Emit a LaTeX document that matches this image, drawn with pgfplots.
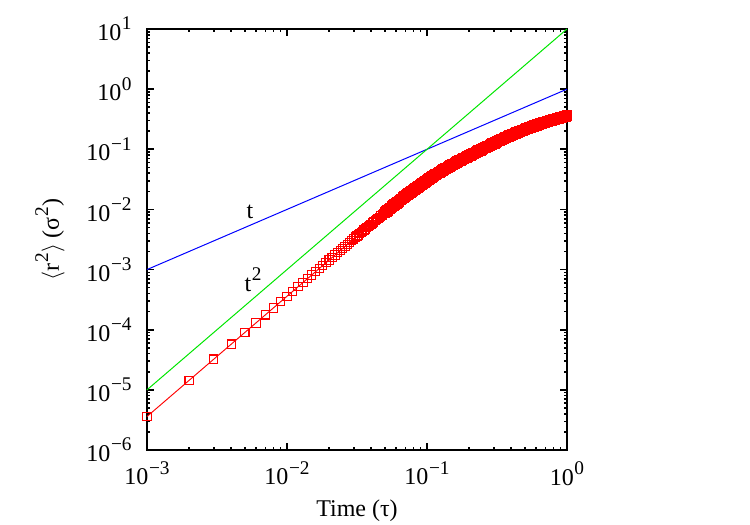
\documentclass[border=0pt]{standalone}
\usepackage{pgfplots}
\pgfplotsset{compat=1.18}
\usepackage{fontspec}
\setmainfont{Liberation Serif}
\newcommand\sups[1]{\kern0.5pt\raisebox{0.45em}{\fontsize{14.5}{14.5}\selectfont #1}}
\begin{document}
\begin{tikzpicture}[font=\fontsize{18}{21}\selectfont]
\useasboundingbox (-110.25pt,-56.25pt) rectangle (452.25pt,337.5pt);
\begin{axis}[
  at={(0pt,0pt)}, anchor=south west,
  scale only axis, width=315pt, height=315.75pt,
  xmode=log, ymode=log,
  xmin=1e-3, xmax=1, ymin=1e-6, ymax=10,
  clip=false,
  axis line style={line width=1.4pt},
  tick style={line width=1.2pt, black},
  tick align=inside,
  major tick length=5pt, minor tick length=2.6pt,
  xtick={0.001,0.01,0.1,1},
  xticklabels={10\sups{−3},10\sups{−2},10\sups{−1},10\sups{0}},
  minor xtick={0.002,0.003,0.004,0.005,0.006,0.007,0.008,0.009,0.02,0.03,0.04,0.05,0.06,0.07,0.08,0.09,0.2,0.3,0.4,0.5,0.6,0.7,0.8,0.9},
  ytick={1e-6,1e-5,1e-4,1e-3,1e-2,1e-1,1,10},
  yticklabels={10\sups{−6},10\sups{−5},10\sups{−4},10\sups{−3},10\sups{−2},10\sups{−1},10\sups{0},10\sups{1}},
  minor ytick={2e-6,3e-6,4e-6,5e-6,6e-6,7e-6,8e-6,9e-6,2e-5,3e-5,4e-5,5e-5,6e-5,7e-5,8e-5,9e-5,2e-4,3e-4,4e-4,5e-4,6e-4,7e-4,8e-4,9e-4,2e-3,3e-3,4e-3,5e-3,6e-3,7e-3,8e-3,9e-3,0.02,0.03,0.04,0.05,0.06,0.07,0.08,0.09,0.2,0.3,0.4,0.5,0.6,0.7,0.8,0.9,2,3,4,5,6,7,8,9},
  xticklabel style={yshift=-5pt},
  yticklabel style={xshift=-8pt},
  xlabel={Time (τ)},
  ylabel={$\langle$r\sups{2}$\rangle$ (σ\sups{2})},
  xlabel style={at={(axis description cs:0.5,-0.145)}, anchor=center},
  ylabel style={at={(axis description cs:-0.231,0.5)}, anchor=center},
]
\addplot[color={rgb,255:red,255;green,0;blue,0}, line width=0.7pt, mark=square, mark size=3.1pt, mark options={solid, line width=0.8pt}] coordinates {
(0.001,3.6e-6)(0.002,1.44e-5)(0.003,3.24e-5)(0.004,5.76e-5)(0.005,9.0e-5)
(0.006,1.296e-4)(0.007,1.764e-4)(0.008,2.304e-4)(0.009,2.916e-4)(0.010,3.6e-4)
(0.011,4.356e-4)(0.012,5.184e-4)(0.013,6.084e-4)(0.014,7.056e-4)(0.015,8.1e-4)
(0.016,9.216e-4)(0.017,1.0404e-3)(0.018,1.1664e-3)(0.019,1.2996e-3)(0.020,1.44e-3)
(0.021,1.5876e-3)(0.022,1.7424e-3)(0.023,1.9044e-3)(0.024,2.0736e-3)(0.025,2.25e-3)
(0.026,2.4336e-3)(0.027,2.6244e-3)(0.028,2.8224e-3)(0.029,3.0276e-3)(0.030,3.24e-3)
(0.031,3.4596e-3)
(0.03162,3.600e-3)(0.03236,3.770e-3)(0.03311,3.946e-3)(0.03388,4.132e-3)(0.03467,4.325e-3)
(0.03548,4.527e-3)(0.03631,4.738e-3)(0.03715,4.958e-3)(0.03802,5.189e-3)(0.03890,5.429e-3)
(0.03981,5.679e-3)(0.04074,5.942e-3)(0.04169,6.215e-3)(0.04266,6.501e-3)(0.04365,6.799e-3)
(0.04467,7.109e-3)(0.04571,7.434e-3)(0.04677,7.771e-3)(0.04786,8.124e-3)(0.04898,8.494e-3)
(0.05012,8.878e-3)
};
\addplot[color={rgb,255:red,255;green,0;blue,0}, line width=0.7pt, mark=square, mark size=3.3pt, mark options={solid, line width=1.5pt}] coordinates {
(0.05012,8.878e-3)(0.05129,9.280e-3)(0.05248,9.697e-3)(0.05370,1.013e-2)(0.05495,1.059e-2)
(0.05623,1.106e-2)
(0.05754,1.155e-2)(0.05888,1.206e-2)(0.06026,1.260e-2)(0.06166,1.314e-2)(0.06310,1.372e-2)
(0.06457,1.431e-2)(0.06607,1.493e-2)(0.06761,1.556e-2)(0.06918,1.622e-2)(0.07079,1.690e-2)
(0.07244,1.760e-2)(0.07413,1.833e-2)(0.07586,1.908e-2)(0.07762,1.986e-2)(0.07943,2.067e-2)
(0.08128,2.150e-2)(0.08318,2.236e-2)(0.08511,2.325e-2)(0.08710,2.416e-2)(0.08913,2.511e-2)
(0.09120,2.608e-2)(0.09333,2.709e-2)(0.09550,2.812e-2)(0.09772,2.919e-2)(0.1000,3.029e-2)
(0.1023,3.142e-2)(0.1047,3.259e-2)(0.1072,3.377e-2)(0.1096,3.499e-2)(0.1122,3.625e-2)
(0.1148,3.753e-2)(0.1175,3.885e-2)(0.1202,4.020e-2)(0.1230,4.158e-2)(0.1259,4.299e-2)
(0.1288,4.443e-2)(0.1318,4.590e-2)(0.1349,4.740e-2)(0.1380,4.894e-2)(0.1413,5.051e-2)
(0.1445,5.210e-2)(0.1479,5.372e-2)(0.1514,5.539e-2)(0.1549,5.707e-2)(0.1585,5.879e-2)
(0.1622,6.054e-2)(0.1660,6.232e-2)(0.1698,6.413e-2)(0.1738,6.595e-2)(0.1778,6.781e-2)
(0.1820,6.971e-2)(0.1862,7.166e-2)(0.1905,7.366e-2)(0.1950,7.570e-2)(0.1995,7.780e-2)
(0.2042,7.997e-2)(0.2089,8.219e-2)(0.2138,8.447e-2)(0.2188,8.680e-2)(0.2239,8.919e-2)
(0.2291,9.165e-2)(0.2344,9.418e-2)(0.2399,9.674e-2)(0.2455,9.938e-2)(0.2512,1.021e-1)
(0.2570,1.049e-1)(0.2630,1.078e-1)(0.2692,1.107e-1)(0.2754,1.137e-1)(0.2818,1.168e-1)
(0.2884,1.199e-1)(0.2951,1.231e-1)(0.3020,1.265e-1)(0.3090,1.299e-1)(0.3162,1.334e-1)
(0.3236,1.369e-1)(0.3311,1.406e-1)(0.3388,1.442e-1)(0.3467,1.479e-1)(0.3548,1.518e-1)
(0.3631,1.555e-1)(0.3715,1.595e-1)(0.3802,1.634e-1)(0.3890,1.674e-1)(0.3981,1.714e-1)
(0.4074,1.755e-1)(0.4169,1.796e-1)(0.4266,1.838e-1)(0.4365,1.880e-1)(0.4467,1.923e-1)
(0.4571,1.966e-1)(0.4677,2.010e-1)(0.4786,2.054e-1)(0.4898,2.098e-1)(0.5012,2.143e-1)
(0.5129,2.188e-1)(0.5248,2.234e-1)(0.5370,2.280e-1)(0.5495,2.325e-1)(0.5623,2.371e-1)
(0.5754,2.418e-1)(0.5888,2.465e-1)(0.6026,2.512e-1)(0.6166,2.560e-1)(0.6310,2.607e-1)
(0.6457,2.656e-1)(0.6607,2.704e-1)(0.6761,2.753e-1)(0.6918,2.801e-1)(0.7079,2.851e-1)
(0.7244,2.900e-1)(0.7413,2.950e-1)(0.7586,2.999e-1)(0.7762,3.049e-1)(0.7943,3.099e-1)
(0.8128,3.149e-1)(0.8318,3.199e-1)(0.8511,3.250e-1)(0.8710,3.299e-1)(0.8913,3.350e-1)
(0.9120,3.399e-1)(0.9333,3.450e-1)(0.9550,3.499e-1)(0.9772,3.550e-1)(1.000,3.599e-1)
};
\addplot[color={rgb,255:red,0;green,0;blue,255}, line width=0.75pt, mark=none] coordinates {(0.001,0.001)(1,1)};
\addplot[color={rgb,255:red,0;green,230;blue,0}, line width=0.75pt, mark=none] coordinates {(0.001,1e-5)(1,10)};
\node at (axis cs:0.00544,0.0091) {t};
\node at (axis cs:0.00572,6.75e-4) {t\sups{2}};
\end{axis}
\end{tikzpicture}
\end{document}
